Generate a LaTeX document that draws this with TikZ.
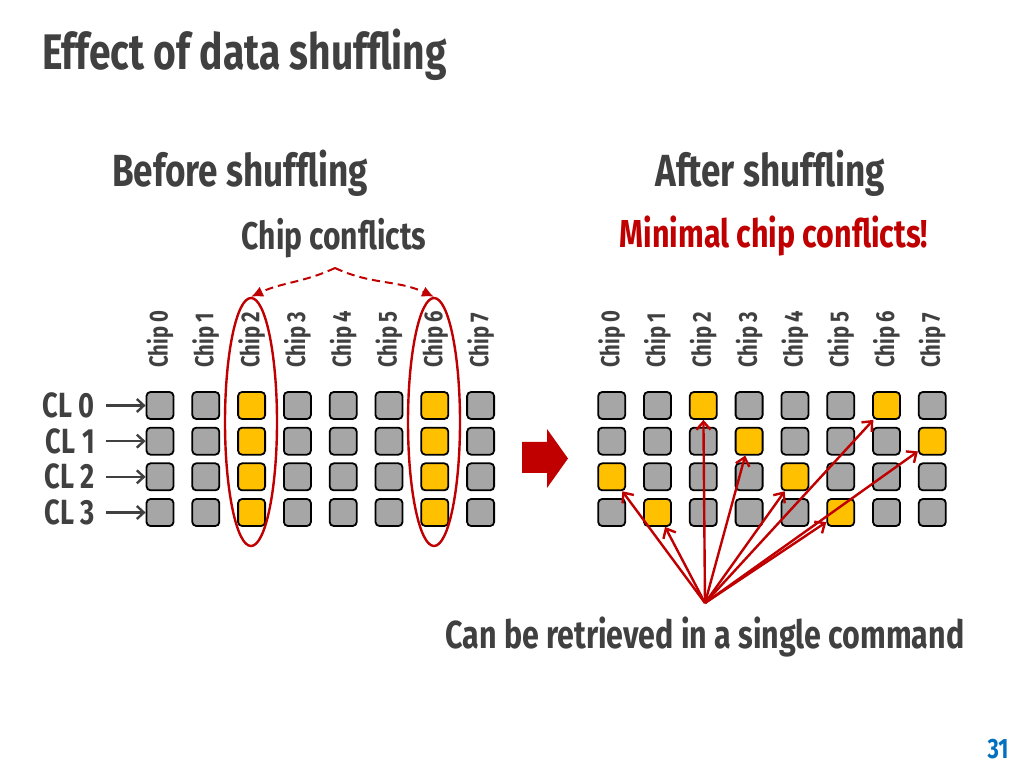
\documentclass[tikz,border=0pt]{standalone}
\usepackage{fontspec}
\setmainfont{Fira Sans}[FakeStretch=0.78]
\usetikzlibrary{shapes.geometric,arrows.meta}
\definecolor{textgray}{HTML}{404040}
\definecolor{darkred}{HTML}{C00000}
\definecolor{cellgray}{HTML}{A6A6A6}
\definecolor{cellyellow}{HTML}{FFC000}
\definecolor{slideblue}{HTML}{0070C0}

\begin{document}
\begin{tikzpicture}[
    x=1pt, y=1pt,
    heading/.style={text=textgray, anchor=base, inner sep=0pt, font=\bfseries\fontsize{45}{50}\selectfont},
    chiplabel/.style={text=textgray, rotate=90, anchor=west, inner sep=0pt, font=\bfseries\fontsize{26}{30}\selectfont},
    chipcell/.style={draw=black, line width=1.8pt, rounded corners=4pt, minimum size=27pt, inner sep=0pt},
    cllabel/.style={text=textgray, anchor=east, inner sep=0pt, font=\bfseries\fontsize{35}{40}\selectfont},
    clarr/.style={-{Straight Barb[length=7pt,width=13pt]}, line width=2.4pt, textgray},
    conflict/.style={ellipse, draw=darkred, line width=2.4pt, minimum width=52pt, minimum height=248pt, inner sep=0pt},
    dasharr/.style={-{Latex[length=12pt,width=11pt]}, dash pattern=on 8pt off 5pt, line width=2pt, darkred},
    fetch/.style={-{Straight Barb[length=8pt,width=14pt]}, line width=2.4pt, darkred}
]
    \useasboundingbox (0,0) rectangle (1024,768);

    % Titles
    \node[text=textgray, anchor=base west, inner sep=0pt, font=\bfseries\fontsize{50}{60}\selectfont] (title) at (42,698) {Effect of data shuffling};
    \node[heading] (before) at (240,581) {Before shuffling};
    \node[heading] (after) at (770,581) {After shuffling};
    \node[heading, font=\bfseries\fontsize{38.5}{46}\selectfont] (conflicts) at (334,518) {Chip conflicts};
    \node[heading, text=darkred, font=\bfseries\fontsize{39}{46}\selectfont] (minimal) at (774,520) {Minimal chip conflicts!};

    % Chip grids (left: before, right: after)
    \foreach \c in {0,...,7} {
        \node[chiplabel] (lchip\c) at ({160+45.8*\c},400) {Chip \c};
        \node[chiplabel] (rchip\c) at ({611.7+45.8*\c},400) {Chip \c};
    }
    \foreach \r in {0,...,3} {
        \foreach \c in {0,...,7} {
            \pgfmathtruncatemacro{\lhot}{mod(\c,4)==2 ? 1 : 0}
            \pgfmathtruncatemacro{\rhot}{mod(\c,4)==mod(\r+2,4) ? 1 : 0}
            \ifnum\lhot=1 \def\lfill{cellyellow}\else\def\lfill{cellgray}\fi
            \ifnum\rhot=1 \def\rfill{cellyellow}\else\def\rfill{cellgray}\fi
            \node[chipcell, fill=\lfill] (L-\r-\c) at ({160+45.8*\c},{362.5-35.67*\r}) {};
            \node[chipcell, fill=\rfill] (R-\r-\c) at ({611.7+45.8*\c},{362.5-35.67*\r}) {};
        }
    }

    % Cache line labels
    \foreach \r in {0,...,3} {
        \node[cllabel] (cl\r) at (95,{362.5-35.67*\r}) {CL \r};
        \draw[clarr, shorten <=11pt] (cl\r.east) -- (L-\r-0.west);
    }

    % Conflicting chips
    \node[conflict] (conf2) at (251,346) {};
    \node[conflict] (conf6) at (434,346) {};
    \coordinate (peak) at (335,500);
    \draw[dasharr] (peak) to[out=205, in=25] (conf2.north);
    \draw[dasharr] (peak) to[out=335, in=155] (conf6.north);

    % Shuffle arrow
    \fill[darkred] (522,295) -- (547,295) -- (547,280) -- (568,309.5) -- (547,339) -- (547,326) -- (522,326) -- cycle;

    % Single command
    \coordinate (src) at (705,165);
    \foreach \t in {R-2-0,R-3-1,R-0-2,R-1-3,R-2-4,R-3-5,R-0-6,R-1-7}
        \draw[fetch] (src) -- (\t);
    \node[heading, font=\bfseries\fontsize{39}{44}\selectfont] (single) at (705,120) {Can be retrieved in a single command};

    % Page number
    \node[text=slideblue, anchor=base, inner sep=0pt, font=\bfseries\fontsize{28}{32}\selectfont] (page) at (998,10) {31};
\end{tikzpicture}
\end{document}
